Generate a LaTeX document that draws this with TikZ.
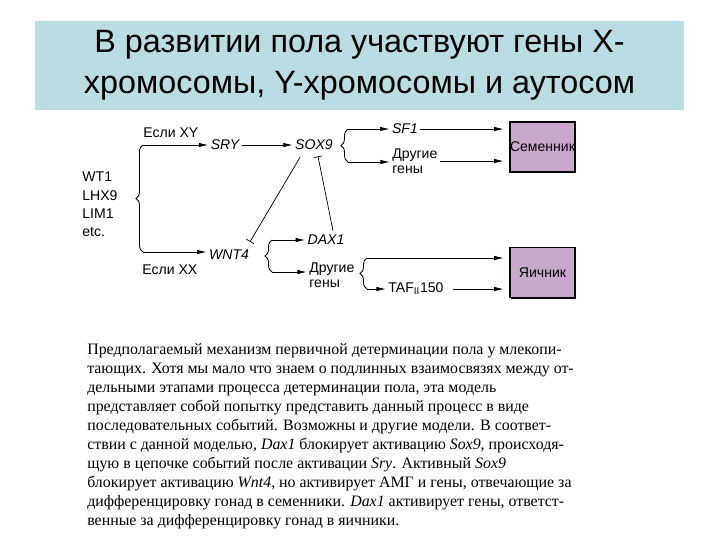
\documentclass[tikz,border=0pt]{standalone}
\usepackage{fontspec}
\setmainfont{Liberation Serif}
\setsansfont{Liberation Sans}
\usetikzlibrary{arrows.meta, decorations.pathreplacing, shadows}
\definecolor{ctitle}{HTML}{BADDE1}
\definecolor{cgonad}{HTML}{C8A9CB}

\begin{document}
\begin{tikzpicture}[x=0.025cm, y=-0.025cm,
  lab/.style={font=\sffamily\fontsize{10}{10.5}\selectfont, inner sep=1.5pt},
  gene/.style={lab, font=\sffamily\itshape\fontsize{10}{10.5}\selectfont},
  gonad/.style={draw=black, line width=0.8pt, fill=cgonad, inner sep=0pt,
                minimum width=1.625cm, minimum height=1.25cm,
                font=\sffamily\fontsize{10}{10.5}\selectfont,
                drop shadow={shadow xshift=0.9pt, shadow yshift=-0.9pt, fill=black, opacity=1}},
  arr/.style={-{Latex[length=2.4mm,width=1.1mm]}, line width=0.6pt},
  inh/.style={-{Bar[width=2.2mm]}, line width=0.5pt},
  brc/.style={decorate, decoration={brace, amplitude=5pt}, line width=0.6pt}
]
\useasboundingbox (0,0) rectangle (720,540);

% title
\node[fill=ctitle, minimum width=16.225cm, minimum height=2.225cm, align=center,
      font=\sffamily\fontsize{23}{29}\selectfont] (title) at (359.5,65.5)
  {\raisebox{-2pt}{В развитии пола участвуют гены Х-}\\\raisebox{-2pt}{хромосомы, Y-хромосомы и аутосом}};

% genes
\node[lab, align=left, anchor=west, font=\sffamily\fontsize{10}{13}\selectfont] (auto) at (80,204.5) {WT1\\LHX9\\LIM1\\etc.};
\node[lab, anchor=west] (ifxy) at (141,133) {Если XY};
\node[lab, anchor=west] (ifxx) at (140,270) {Если XX};
\node[gene] (sry) at (225,145) {SRY};
\node[gene] (sox) at (314,145) {SOX9};
\node[gene] (sf)  at (405,129) {SF1};
\node[lab, align=left, anchor=west] (otht) at (390,161) {Другие\\гены};
\node[gene] (wnt) at (229,255) {WNT4};
\node[gene] (dax) at (326,240) {DAX1};
\node[lab, align=left, anchor=west] (otho) at (307,275) {Другие\\гены};
\node[lab, anchor=west] (taf) at (386,289) {TAF\textsubscript{II}150};

% gonads
\node[gonad] (testis) at (542.5,147) {Семенник};
\node[gonad] (ovary)  at (542.5,272.5) {Яичник};

% braces
\coordinate (b1t) at (143,145);
\coordinate (b1b) at (143,252);
\coordinate (b2t) at (348,129);
\coordinate (b2b) at (348,162);
\coordinate (b3t) at (272,240);
\coordinate (b3b) at (272,272);
\coordinate (b4t) at (367,258);
\coordinate (b4b) at (367,289);
\draw[brc] (b1b) -- (b1t);
\draw[brc] (b2b) -- (b2t);
\draw[brc] (b3b) -- (b3t);
\draw[brc] (b4b) -- (b4t);

% activation
\draw[arr] (b1t) -- (b1t -| sry.west);
\draw[arr] (b1b) -- (b1b -| wnt.west);
\draw[arr] (sry) -- (sox);
\draw[arr] (b2t) -- (b2t -| sf.west);
\draw[arr] (b2b) -- (b2b -| otht.west);
\draw[arr, shorten >=4pt] (sf.east) -- (sf.east -| testis.west);
\draw[arr, shorten >=4pt] (otht.east) -- (otht.east -| testis.west);
\draw[arr] (b3t) -- (b3t -| dax.west);
\draw[arr] (b3b) -- (b3b -| otho.west);
\draw[arr, shorten >=4pt] (b4t) -- (b4t -| ovary.west);
\draw[arr] (b4b) -- (b4b -| taf.west);
\draw[arr, shorten <=5pt, shorten >=4pt] (taf.east) -- (taf.east -| ovary.west);

% inhibition
\draw[inh] ([shift={(-14,5)}]sox.south) -- ([shift={(21,-6)}]wnt.north);
\draw[inh] ([shift={(7,-2)}]dax.north) -- ([shift={(4,4)}]sox.south);

% caption
\node[anchor=north west, align=left, inner sep=0pt, font=\fontsize{11.3}{13.5}\selectfont] (caption) at (87,343)
  {Предполагаемый механизм первичной детерминации пола у млекопи-\\
   тающих. Хотя мы мало что знаем о подлинных взаимосвязях между от-\\
   дельными этапами процесса детерминации пола, эта модель\\
   представляет собой попытку представить данный процесс в виде\\
   последовательных событий. Возможны и другие модели. В соответ-\\
   ствии с данной моделью, \textit{Dax1} блокирует активацию \textit{Sox9}, происходя-\\
   щую в цепочке событий после активации \textit{Sry}. Активный \textit{Sox9}\\
   блокирует активацию \textit{Wnt4}, но активирует АМГ и гены, отвечающие за\\
   дифференцировку гонад в семенники. \textit{Dax1} активирует гены, ответст-\\
   венные за дифференцировку гонад в яичники.};
\end{tikzpicture}
\end{document}
